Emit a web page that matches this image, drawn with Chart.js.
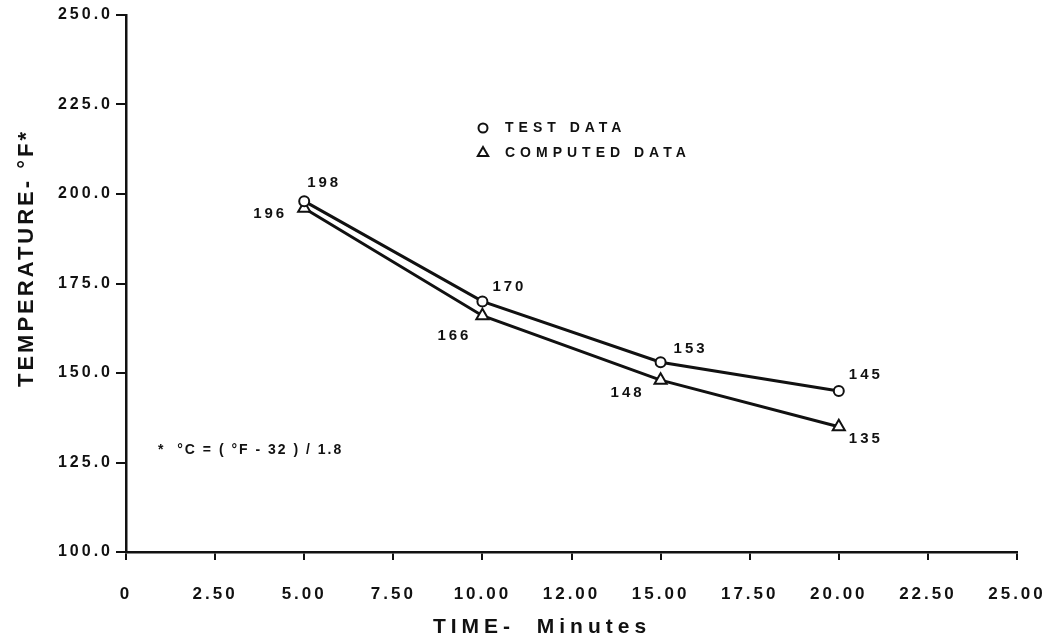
<!DOCTYPE html>
<html>
<head>
<meta charset="utf-8">
<script src="https://cdn.jsdelivr.net/npm/chart.js@4/dist/chart.umd.min.js"></script>
<style>
  body { margin: 0; background: #fff; }
  #wrap { width: 1054px; height: 643px; }
</style>
</head>
<body>
<div id="wrap"><canvas id="c"></canvas></div>
<script>
const minutes = [5, 10, 15, 20];
const testData = [198, 170, 153, 145];
const computedData = [196, 166, 148, 135];
const xTickLabels = ["0", "2.50", "5.00", "7.50", "10.00", "12.00", "15.00", "17.50", "20.00", "22.50", "25.00"];
const yTickLabels = ["100.0", "125.0", "150.0", "175.0", "200.0", "225.0", "250.0"];

const ink = "#111";
const FONT = "'Liberation Sans', Arial, sans-serif";

// where each value label sits relative to its marker
const labelOffsets = [
  [[20, -18], [27, -15], [30, -13], [27, -16]],
  [[-34, 6], [-28, 20], [-33, 13], [27, 12]]
];

const spacing = {
  id: "spacing",
  beforeLayout(chart) { chart.ctx.letterSpacing = "3px"; },
  beforeDraw(chart) { chart.ctx.letterSpacing = "3px"; }
};

const notes = {
  id: "notes",
  afterDraw(chart) {
    const ctx = chart.ctx;
    ctx.save();
    ctx.fillStyle = ink;
    ctx.font = "bold 15px " + FONT;
    ctx.letterSpacing = "3px";
    ctx.textAlign = "center";
    ctx.textBaseline = "middle";
    chart.data.datasets.forEach((ds, i) => {
      chart.getDatasetMeta(i).data.forEach((pt, j) => {
        const [dx, dy] = labelOffsets[i][j];
        ctx.fillText(String(ds.data[j].y), pt.x + dx, pt.y + dy);
      });
    });

    // axis titles
    ctx.font = "bold 21px " + FONT;
    ctx.letterSpacing = "5px";
    ctx.fillText("TIME-  Minutes", 542, 627);
    ctx.save();
    ctx.translate(27, 258);
    ctx.rotate(-Math.PI / 2);
    ctx.font = "bold 22px " + FONT;
    ctx.letterSpacing = "3px";
    ctx.fillText("TEMPERATURE- °F*", 0, 0);
    ctx.restore();

    // legend
    ctx.textAlign = "left";
    ctx.font = "bold 14px " + FONT;
    ctx.letterSpacing = "5px";
    ctx.strokeStyle = ink;
    ctx.lineWidth = 2;
    ctx.fillStyle = "#fff";
    Chart.helpers.drawPoint(ctx, { pointStyle: "circle", radius: 4.5, borderWidth: 2 }, 483, 128);
    Chart.helpers.drawPoint(ctx, { pointStyle: "triangle", radius: 6, borderWidth: 2 }, 483, 153);
    ctx.fillStyle = ink;
    ctx.fillText("TEST DATA", 505, 128);
    ctx.fillText("COMPUTED DATA", 505, 153);

    // conversion note
    ctx.font = "bold 14px " + FONT;
    ctx.letterSpacing = "2px";
    ctx.fillText("*  °C = ( °F - 32 ) / 1.8", 158, 450);
    ctx.restore();
  }
};

new Chart(document.getElementById("c"), {
  type: "line",
  data: {
    datasets: [
      {
        label: "TEST DATA",
        data: minutes.map((m, i) => ({ x: m, y: testData[i] })),
        borderColor: ink,
        borderWidth: 3,
        pointStyle: "circle",
        pointRadius: 5,
        pointBorderWidth: 2,
        pointBackgroundColor: "#fff",
        pointBorderColor: ink
      },
      {
        label: "COMPUTED DATA",
        data: minutes.map((m, i) => ({ x: m, y: computedData[i] })),
        borderColor: ink,
        borderWidth: 3,
        pointStyle: "triangle",
        pointRadius: 7,
        pointBorderWidth: 2,
        pointBackgroundColor: "#fff",
        pointBorderColor: ink
      }
    ]
  },
  options: {
    responsive: true,
    maintainAspectRatio: false,
    animation: false,
    layout: { padding: { top: 15, right: 37, left: 0, bottom: 0 } },
    plugins: {
      legend: { display: false },
      tooltip: { enabled: false }
    },
    scales: {
      x: {
        type: "linear",
        min: 0,
        max: 25,
        afterFit(s) { s.height = 91; s.paddingLeft = 0; s.paddingRight = 0; },
        afterBuildTicks(s) { s.ticks = xTickLabels.map((t, i) => ({ value: i * 2.5 })); },
        ticks: {
          color: ink,
          font: { family: FONT, size: 17, weight: "bold" },
          padding: 24,
          maxRotation: 0,
          autoSkip: false,
          callback: (v, i) => xTickLabels[i]
        },
        grid: { drawOnChartArea: false, drawTicks: true, tickLength: 8, color: ink, lineWidth: 2 },
        border: { display: true, color: ink, width: 2.5 }
      },
      y: {
        min: 100,
        max: 250,
        afterFit(s) { s.width = 126; },
        afterBuildTicks(s) { s.ticks = yTickLabels.map((t, i) => ({ value: 100 + i * 25 })); },
        ticks: {
          color: ink,
          font: { family: FONT, size: 16, weight: "bold" },
          padding: 3,
          callback: (v, i) => yTickLabels[i]
        },
        grid: { drawOnChartArea: false, drawTicks: true, tickLength: 10, color: ink, lineWidth: 2 },
        border: { display: true, color: ink, width: 2.5 }
      }
    }
  },
  plugins: [spacing, notes]
});
</script>
</body>
</html>
